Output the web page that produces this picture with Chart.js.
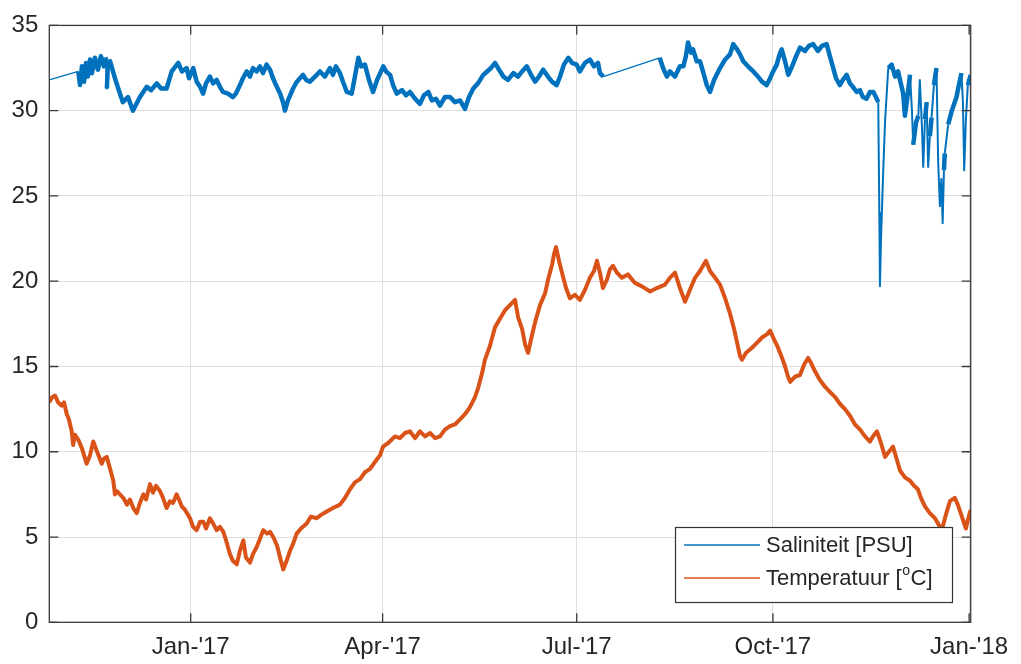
<!DOCTYPE html>
<html>
<head>
<meta charset="utf-8">
<script src="https://cdn.jsdelivr.net/npm/chart.js@4.4.1/dist/chart.umd.min.js"></script>
<style>
html,body{margin:0;padding:0;background:#fff;}
#wrap{position:relative;width:1021px;height:664px;}
</style>
</head>
<body>
<div id="wrap"><canvas id="c"></canvas></div>
<script>
// x values are days relative to 1 Jan 2017
const xMin = -66.3, xMax = 365.75;
const xTickDays = [0, 90, 181, 273, 365];
const xTickLabels = ["Jan-'17", "Apr-'17", "Jul-'17", "Oct-'17", "Jan-'18"];
const yTicks = [0, 5, 10, 15, 20, 25, 30, 35];

const salLabel = "Saliniteit [PSU]";
const tempLabelParts = ["Temperatuur [", "o", "C]"];

const salDays = [-66.3,-52.7,-51.9,-51.0,-50.0,-49.1,-48.2,-47.2,-46.3,-44.9,-43.5,-42.1,-40.7,-39.7,-39.3,-38.8,-37.8,
-35.5,-33.2,-31.8,-29.4,-27.1,-23.8,-20.6,-18.6,-15.9,-13.9,-11.3,-8.9,-5.8,-4.1,-1.9,-0.8,1.2,2.8,4.4,5.8,7.2,9.0,10.5,12.2,13.7,15.1,17.5,19.8,21.2,23.1,24.5,26.3,27.8,29.2,30.9,32.5,33.9,35.6,37.2,38.6,40.0,41.9,43.3,44.2,45.6,48.0,49.8,52.7,54.1,55.9,58.3,60.6,62.9,65.3,66.7,68.1,70.0,71.4,73.2,75.5,77.0,78.6,79.9,81.7,83.6,85.5,87.4,90.3,91.6,93.5,94.9,96.6,99.1,101.0,102.8,105.2,107.5,109.4,111.4,113.1,115.0,116.9,119.2,121.6,123.9,126.3,128.6,130.5,132.5,134.7,137.2,139.0,140.8,142.7,144.6,146.6,148.8,151.3,153.5,155.4,157.6,159.6,161.5,163.3,165.3,167.5,169.4,171.6,173.2,175.0,177.1,178.8,181.0,182.5,184.9,187.2,189.1,191.0,191.9,193.5,
219.9,221.5,223.3,224.7,227.1,229.4,231.0,232.2,233.2,234.6,235.5,237.3,238.8,240.2,242.0,243.5,245.4,248.2,250.6,252.9,254.4,256.2,257.6,259.1,261.3,263.8,266.0,267.9,270.1,271.7,273.1,274.8,275.9,277.1,278.7,280.2,282.0,283.9,285.7,288.0,289.9,291.9,294.1,296.0,298.2,299.7,301.3,302.6,304.4,305.8,307.6,309.1,310.5,312.3,313.8,315.2,316.9,318.5,320.1,321.3,322.4,322.9,323.2,323.7,324.6,325.6,327.1,328.7,330.3,331.7,332.6,334.1,334.9,335.9,337.3,338.2,338.8,340.1,341.2,341.9,342.9,343.5,344.3,345.1,345.8,346.6,347.4,348.5,349.7,350.5,351.3,352.0,352.6,353.2,353.6,355.2,356.9,359.1,360.2,361.4,362.1,362.7,363.5,364.4,365.75];
const salVals = [31.8,32.3,31.5,32.6,31.7,32.8,32.0,33.0,32.2,33.1,32.4,33.2,32.6,33.1,31.3,32.8,32.9,
31.9,31.0,30.5,30.8,30.0,30.8,31.4,31.2,31.6,31.3,31.3,32.3,32.8,32.3,32.5,31.9,32.5,31.7,31.4,31.0,31.6,32.0,31.6,31.8,31.4,31.1,31.0,30.8,31.0,31.5,31.9,32.3,32.0,32.5,32.3,32.6,32.2,32.7,32.4,31.9,31.5,31.0,30.5,30.0,30.6,31.3,31.7,32.1,31.8,31.7,32.0,32.3,32.0,32.5,32.1,32.6,32.2,31.7,31.1,31.0,32.0,33.1,32.6,32.7,31.8,31.1,31.8,32.6,32.3,32.1,31.5,31.0,31.2,30.9,31.1,30.7,30.4,30.9,31.1,30.6,30.7,30.3,30.8,30.8,30.5,30.6,30.1,30.8,31.3,31.6,32.1,32.3,32.5,32.8,32.4,32.0,31.8,32.2,32.0,32.3,32.6,32.1,31.7,32.0,32.4,32.0,31.7,31.5,32.0,32.7,33.1,32.8,32.7,32.3,32.8,33.0,32.6,32.8,32.2,32.0,
33.1,32.5,32.0,32.3,32.0,32.6,32.6,33.2,34.0,33.4,33.6,32.9,32.9,32.3,31.5,31.1,31.8,32.5,33.0,33.3,33.9,33.6,33.3,32.9,32.6,32.3,32.0,31.7,31.5,31.9,32.3,32.7,33.2,33.6,32.9,32.1,32.6,33.2,33.7,33.5,33.8,33.9,33.5,33.8,33.9,33.2,32.5,31.9,31.5,31.8,32.1,31.6,31.4,31.1,31.2,30.8,30.7,31.1,31.1,30.8,30.5,24.0,19.7,22.5,26.0,29.4,32.5,32.7,32.0,32.3,31.8,31.0,29.7,30.6,32.1,30.0,28.0,29.3,29.7,31.8,29.0,26.7,29.5,30.5,26.7,28.5,29.6,31.5,32.5,27.0,24.4,26.0,23.4,26.5,27.5,29.2,30.0,30.8,31.5,32.2,30.5,26.5,29.5,31.5,32.1];

const tempDays = [-66.3,-65.0,-63.6,-62.2,-60.5,-59.4,-58.1,-57.1,-55.8,-55.1,-54.3,-52.7,-51.0,-48.8,-47.2,-45.7,-43.9,-41.7,-40.7,-39.4,-37.8,-36.3,-35.5,-34.7,-33.2,-31.6,-29.9,-28.5,-26.9,-25.3,-23.8,-22.2,-20.9,-19.1,-17.7,-16.3,-14.4,-13.0,-11.3,-9.7,-8.3,-6.6,-5.5,-4.2,-2.7,-0.3,1.1,2.8,4.4,5.9,7.2,9.0,10.5,12.2,13.7,15.3,16.6,18.4,19.8,21.6,23.1,24.7,25.9,27.8,29.2,30.9,32.5,34.0,35.8,37.2,38.7,40.5,41.9,43.4,44.7,46.6,48.0,49.7,51.7,54.4,56.4,59.1,61.1,63.8,66.7,70.0,
72.4,74.7,77.0,79.4,81.7,84.1,86.4,88.8,90.2,92.5,95.8,98.1,100.5,102.8,105.2,107.5,109.9,112.2,114.6,116.9,119.2,121.6,123.9,126.3,128.6,130.9,133.3,134.7,136.6,138.0,140.3,142.7,145.0,147.4,149.7,152.1,153.5,155.4,156.8,158.2,159.6,161.5,163.8,166.2,167.6,169.5,170.4,171.3,172.7,174.1,176.0,177.8,180.2,182.5,184.9,187.2,189.1,190.5,191.9,193.3,195.2,196.6,198.0,199.9,202.2,205.0,208.3,211.6,215.4,218.6,222.4,224.7,227.1,229.4,231.8,234.1,236.5,238.8,241.6,243.5,245.9,248.2,250.6,252.9,254.8,256.2,257.6,258.5,260.4,263.2,265.6,267.9,270.3,271.7,273.5,275.4,277.3,278.7,280.1,281.1,283.4,285.7,287.6,289.5,290.9,292.8,295.1,297.5,299.8,302.2,304.5,306.8,309.2,311.5,313.9,316.2,318.5,319.9,321.8,323.7,325.6,327.4,329.3,331.2,332.6,334.9,337.3,339.2,341.0,342.4,344.3,346.6,349.0,350.4,352.2,354.1,356.0,358.3,359.7,361.6,363.5,364.4,365.75];
const tempVals = [12.9,13.2,13.3,12.9,12.7,12.9,12.2,11.9,11.2,10.4,11.0,10.7,10.2,9.3,9.8,10.6,10.0,9.3,9.6,9.7,9.0,8.3,7.5,7.7,7.5,7.3,6.9,7.2,6.7,6.4,7.0,7.5,7.2,8.1,7.6,8.0,7.7,7.3,6.7,7.1,7.0,7.5,7.2,6.8,6.6,6.1,5.6,5.4,5.9,5.9,5.5,6.1,5.8,5.4,5.6,5.3,4.8,4.0,3.6,3.4,4.2,4.8,3.8,3.5,4.0,4.4,4.9,5.4,5.2,5.3,5.0,4.5,3.8,3.1,3.5,4.2,4.6,5.2,5.5,5.8,6.2,6.1,6.3,6.5,6.7,6.9,
7.3,7.8,8.2,8.4,8.8,9.0,9.4,9.8,10.3,10.5,10.9,10.8,11.1,11.2,10.8,11.2,10.9,11.1,10.8,10.9,11.3,11.5,11.6,11.9,12.2,12.6,13.2,13.7,14.6,15.4,16.2,17.3,17.8,18.3,18.6,18.9,17.9,17.2,16.3,15.8,16.6,17.6,18.6,19.3,20.1,21.0,21.6,22.0,21.2,20.5,19.6,19.0,19.2,18.9,19.5,20.2,20.6,21.2,20.5,19.6,20.1,20.7,20.9,20.5,20.2,20.4,19.9,19.7,19.4,19.6,19.8,20.2,20.5,19.6,18.8,19.5,20.2,20.6,21.2,20.6,20.2,19.8,19.0,18.1,17.2,16.4,15.6,15.4,15.8,16.1,16.4,16.7,16.9,17.1,16.6,16.1,15.5,15.0,14.4,14.1,14.4,14.5,15.1,15.5,15.2,14.7,14.2,13.8,13.5,13.2,12.8,12.5,12.1,11.6,11.3,10.9,10.6,10.9,11.2,10.5,9.7,10.0,10.3,9.5,8.9,8.5,8.3,8.0,7.8,7.3,6.8,6.4,6.1,5.8,5.4,6.3,7.1,7.3,6.9,6.2,5.5,6.0,6.6];

const salColor = '#0072BD';
const tempColor = '#D95319';
const FONT = "'Liberation Sans', Arial, Helvetica, sans-serif";

const toPts = (xs, ys) => xs.map((x, i) => ({x: x, y: ys[i]}));

const framePlugin = {
  id: 'frame',
  afterDatasetsDraw(chart) {
    const {ctx, chartArea: a, scales} = chart;
    ctx.save();
    ctx.strokeStyle = '#3a3a3a';
    ctx.lineWidth = 1.3;
    ctx.strokeRect(a.left, a.top, a.right - a.left, a.bottom - a.top);
    const tl = 9;
    ctx.beginPath();
    yTicks.forEach(v => {
      const y = scales.y.getPixelForValue(v);
      ctx.moveTo(a.left, y); ctx.lineTo(a.left + tl, y);
      ctx.moveTo(a.right, y); ctx.lineTo(a.right - tl, y);
    });
    xTickDays.forEach(v => {
      const x = scales.x.getPixelForValue(v);
      ctx.moveTo(x, a.bottom); ctx.lineTo(x, a.bottom - tl);
      ctx.moveTo(x, a.top); ctx.lineTo(x, a.top + tl);
    });
    ctx.stroke();
    ctx.restore();
  },
  afterDraw(chart) {
    const {ctx} = chart;
    ctx.save();
    const bx = 675, by = 527, bw = 277, bh = 75;
    ctx.fillStyle = '#fff';
    ctx.fillRect(bx, by, bw, bh);
    ctx.strokeStyle = '#333';
    ctx.lineWidth = 1.2;
    ctx.strokeRect(bx + 0.5, by + 0.5, bw, bh);
    const rows = [
      {c: salColor, y: 545},
      {c: tempColor, y: 578}
    ];
    rows.forEach(r => {
      ctx.strokeStyle = r.c; ctx.lineWidth = 1.5;
      ctx.beginPath(); ctx.moveTo(684, r.y); ctx.lineTo(760, r.y); ctx.stroke();
    });
    ctx.fillStyle = '#262626';
    ctx.textBaseline = 'middle';
    ctx.textAlign = 'left';
    ctx.font = '22px ' + FONT;
    ctx.fillText(salLabel, 766, 546);
    let x = 766;
    ctx.fillText(tempLabelParts[0], x, 579);
    x += ctx.measureText(tempLabelParts[0]).width;
    ctx.font = '14px ' + FONT;
    ctx.fillText(tempLabelParts[1], x + 0.5, 571);
    x += ctx.measureText(tempLabelParts[1]).width + 1;
    ctx.font = '22px ' + FONT;
    ctx.fillText(tempLabelParts[2], x, 579);
    ctx.restore();
  }
};

const segWidth = (ctx, normal) => {
  const dx = ctx.p1.parsed.x - ctx.p0.parsed.x;
  const dy = Math.abs(ctx.p1.parsed.y - ctx.p0.parsed.y);
  if (dx > 8) return 1.3;
  if (dy > 1.6) return 2;
  return normal;
};

new Chart(document.getElementById('c'), {
  type: 'line',
  data: {
    datasets: [
      {
        label: salLabel,
        data: toPts(salDays, salVals),
        borderColor: salColor,
        borderWidth: 4.5,
        borderJoinStyle: 'round',
        pointRadius: 0,
        tension: 0,
        segment: { borderWidth: ctx => segWidth(ctx, 4.5) }
      },
      {
        label: tempLabelParts.join(''),
        data: toPts(tempDays, tempVals),
        borderColor: tempColor,
        borderWidth: 4,
        borderJoinStyle: 'round',
        pointRadius: 0,
        tension: 0,
        segment: { borderWidth: ctx => segWidth(ctx, 4) }
      }
    ]
  },
  options: {
    responsive: true,
    maintainAspectRatio: false,
    animation: false,
    layout: {padding: {left: 0, right: 50.3, top: 20, bottom: 0}},
    plugins: {legend: {display: false}, tooltip: {enabled: false}},
    scales: {
      x: {
        type: 'linear',
        min: xMin, max: xMax,
        afterBuildTicks: s => { s.ticks = xTickDays.map(v => ({value: v})); },
        afterFit: s => { s.height = 41.7; },
        ticks: {
          callback: (v) => { const i = xTickDays.indexOf(v); return i >= 0 ? xTickLabels[i] : ''; },
          font: {family: FONT, size: 24},
          color: '#262626',
          padding: 11,
          maxRotation: 0,
          autoSkip: false
        },
        grid: {color: '#dedede', lineWidth: 1, drawTicks: false},
        border: {display: false}
      },
      y: {
        type: 'linear',
        min: 0, max: 35,
        afterBuildTicks: s => { s.ticks = yTicks.map(v => ({value: v})); },
        afterFit: s => { s.width = 49.3; },
        ticks: {
          font: {family: FONT, size: 24},
          color: '#262626',
          padding: 11
        },
        grid: {color: '#dedede', lineWidth: 1, drawTicks: false},
        border: {display: false}
      }
    }
  },
  plugins: [framePlugin]
});
</script>
</body>
</html>
